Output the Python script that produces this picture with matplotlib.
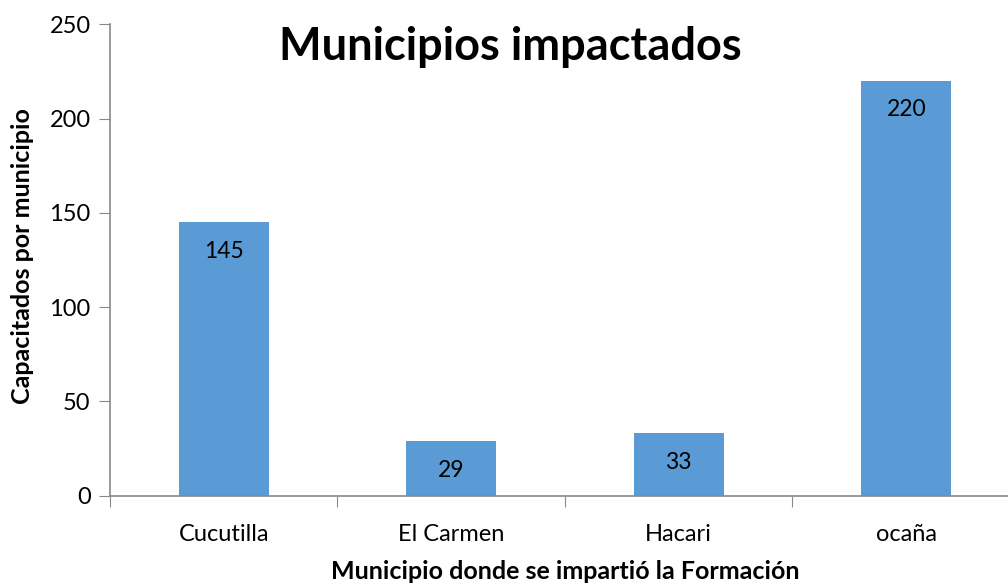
import matplotlib
matplotlib.use('Agg')
from matplotlib import pyplot as plt

categories = ['Cucutilla', 'El Carmen', 'Hacari', 'ocaña']
values = [145, 29, 33, 220]
yticks = [0, 50, 100, 150, 200, 250]

plt.rcParams['font.family'] = ['Lato', 'DejaVu Sans']

fig = plt.figure(figsize=(10.08, 5.83), dpi=100)
ax = fig.add_axes([0.1091, 0.1497, 0.9028, 0.8086])

x = list(range(len(categories)))
ax.bar(x, values, width=0.396, color='#5B9BD5', zorder=2)

# etiquetas dentro de las barras
for i, v in zip(x, values):
    ax.annotate(str(v), xy=(i, v), xytext=(0, -29), textcoords='offset pixels',
                ha='center', va='center', fontsize=16.5, color='black')

ax.set_xlim(-0.5, 3.5)
ax.set_ylim(0, 250)
ax.set_yticks(yticks)
ax.set_yticklabels([str(t) for t in yticks], fontsize=17)

# ticks mayores entre categorias, etiquetas en el centro
ax.set_xticks([i + 0.5 for i in range(-1, len(categories))], minor=False)
ax.set_xticklabels([])
ax.set_xticks(x, minor=True)
ax.set_xticklabels(categories, minor=True, fontsize=17)
ax.tick_params(axis='x', which='minor', length=0, pad=20)
ax.tick_params(axis='x', which='major', length=8, color='#898989', direction='out')
ax.tick_params(axis='y', length=8, color='#898989', direction='out', pad=6)

for s in ['top', 'right']:
    ax.spines[s].set_visible(False)
for s in ['left', 'bottom']:
    ax.spines[s].set_color('#898989')
    ax.spines[s].set_linewidth(1.2)

fig.text(0.506, 0.919, 'Municipios impactados', ha='center', va='center',
         fontsize=32.5, fontweight='bold')
fig.text(0.561, 0.019, 'Municipio donde se impartió la Formación', ha='center',
         va='center', fontsize=18, fontweight='bold')
fig.text(0.022, 0.561, 'Capacitados por municipio', ha='center', va='center',
         rotation=90, fontsize=18, fontweight='bold')

plt.savefig('out.png', dpi=100)
